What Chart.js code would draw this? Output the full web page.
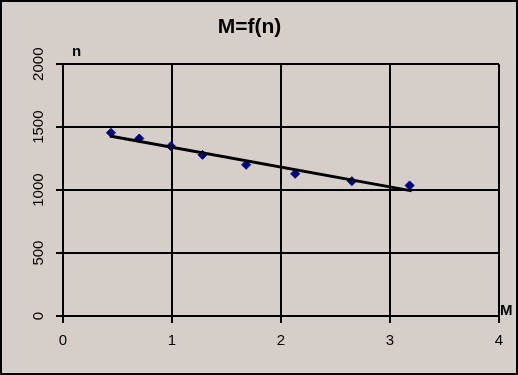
<!DOCTYPE html>
<html>
<head>
<meta charset="utf-8">
<script src="https://cdn.jsdelivr.net/npm/chart.js@4/dist/chart.umd.min.js"></script>
<style>
  html, body { margin: 0; padding: 0; background: #d6cfc9; }
  #wrap { width: 518px; height: 375px; position: relative; }
</style>
</head>
<body>
<div id="wrap"><canvas id="chart" width="518" height="375"></canvas></div>
<script>
// M=f(n): measured points + linear trend line

var pointsM = [0.44, 0.70, 0.99, 1.28, 1.68, 2.13, 2.65, 3.18];
var pointsN = [1455, 1410, 1349, 1280, 1201, 1129, 1071, 1037];

var trendM = [0.43, 3.20];
var trendN = [1429, 994];

var xTicks = [0, 1, 2, 3, 4];
var yTicks = [0, 500, 1000, 1500, 2000];

var BG   = '#d6cfc9';
var FONT = '"Liberation Sans", Arial, sans-serif';

function _pairs(xs, ys) {
  return xs.map(function(x, i) { return { x: x, y: ys[i] }; });
}

function _fixAxis(size, prop) {
  return function(scale) {
    scale[prop] = size;
    scale.paddingTop = 0; scale.paddingBottom = 0;
    scale.paddingLeft = 0; scale.paddingRight = 0;
  };
}

function _plain(v) { return String(v); }

var framePlugin = {
  id: 'frame',
  beforeDraw: function(chart) {
    var ctx = chart.ctx;
    ctx.save();
    ctx.fillStyle = BG;
    ctx.fillRect(0, 0, chart.width, chart.height);
    ctx.restore();
  },
  afterDraw: function(chart) {
    var ctx = chart.ctx;
    var area = chart.chartArea;
    ctx.save();
    ctx.strokeStyle = '#000';
    ctx.lineWidth = 2;
    ctx.strokeRect(1, 1, chart.width - 2, chart.height - 2);
    // axis names in the corners, like the original
    ctx.fillStyle = '#000';
    ctx.font = 'bold 15px ' + FONT;
    ctx.textBaseline = 'alphabetic';
    ctx.textAlign = 'left';
    ctx.fillText('n', area.left + 9, area.top - 8);
    ctx.fillText('M', area.right + 1, area.bottom - 1);
    ctx.restore();
  }
};

new Chart(document.getElementById('chart').getContext('2d'), {
  type: 'scatter',
  data: {
    datasets: [
      {
        label: 'trend',
        type: 'line',
        data: _pairs(trendM, trendN),
        borderColor: '#000',
        borderWidth: 3,
        pointRadius: 0,
        fill: false,
        order: 0
      },
      {
        label: 'M=f(n)',
        data: _pairs(pointsM, pointsN),
        pointStyle: 'rectRot',
        pointRadius: 4.5,
        backgroundColor: '#000080',
        borderColor: '#000080',
        borderWidth: 1,
        order: 1
      }
    ]
  },
  options: {
    responsive: false,
    animation: false,
    layout: { padding: { left: 0, right: 19, top: 0, bottom: 0 } },
    plugins: {
      legend: { display: false },
      tooltip: { enabled: false },
      title: {
        display: true,
        text: 'M=f(n)',
        color: '#000',
        font: { family: FONT, size: 21, weight: 'bold', lineHeight: 1.2 },
        padding: { top: 15, bottom: 24 }
      }
    },
    scales: {
      x: {
        type: 'linear',
        min: xTicks[0],
        max: xTicks[xTicks.length - 1],
        afterBuildTicks: function(scale) { scale.ticks = xTicks.map(function(v) { return { value: v }; }); },
        afterFit: _fixAxis(59, 'height'),
        ticks: { color: '#000', font: { family: FONT, size: 15 }, padding: 9, maxRotation: 0, callback: _plain },
        grid: { color: '#000', lineWidth: 2, tickLength: 7, drawTicks: true },
        border: { color: '#000', width: 2 }
      },
      y: {
        type: 'linear',
        min: yTicks[0],
        max: yTicks[yTicks.length - 1],
        afterBuildTicks: function(scale) { scale.ticks = yTicks.map(function(v) { return { value: v }; }); },
        afterFit: _fixAxis(63, 'width'),
        ticks: {
          color: '#000',
          font: { family: FONT, size: 15 },
          padding: 0,
          minRotation: 90,
          maxRotation: 90,
          crossAlign: 'center',
          callback: _plain
        },
        grid: { color: '#000', lineWidth: 2, tickLength: 7, drawTicks: true },
        border: { color: '#000', width: 2 }
      }
    }
  },
  plugins: [framePlugin]
});
</script>
</body>
</html>
